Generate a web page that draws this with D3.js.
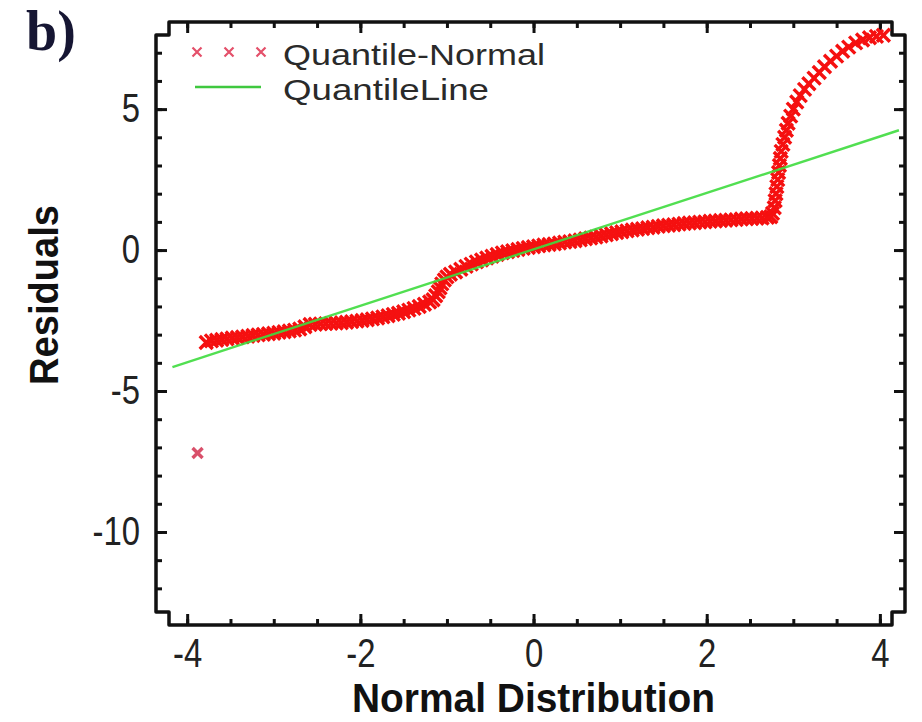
<!DOCTYPE html>
<html>
<head>
<meta charset="utf-8">
<script src="https://cdn.jsdelivr.net/npm/d3@7"></script>
<style>
  body { margin: 0; background: #fff; }
  svg { display: block; }
</style>
</head>
<body>
<div id="chart"></div>
<script>
// tick values
var xMajorTicks = [-4, -2, 0, 2, 4];
var xMinorTicks = [-4, -3.5, -3, -2.5, -2, -1.5, -1, -0.5, 0, 0.5, 1, 1.5, 2, 2.5, 3, 3.5, 4];
var yMajorTicks = [-10, -5, 0, 5];
var yMinorTicks = [-12, -11, -10, -9, -8, -7, -6, -5, -4, -3, -2, -1, 0, 1, 2, 3, 4, 5, 6, 7];

var legendLabels = ["Quantile-Normal", "QuantileLine"];
var xTitle = "Normal  Distribution";
var yTitle = "Residuals";
var panelLabel = "b)";

// residual quantiles vs normal quantiles
var outlierPoints = [[-3.88, -7.2]];
var lowerTail = [
  [-3.78, -3.28], [-3.72, -3.22], [-3.66, -3.2], [-3.6, -3.17], [-3.54, -3.15], [-3.48, -3.12],
  [-3.42, -3.1], [-3.36, -3.08], [-3.3, -3.06], [-3.24, -3.03], [-3.18, -3.01], [-3.12, -2.99],
  [-3.06, -2.97], [-3.0, -2.95], [-2.94, -2.92], [-2.88, -2.9], [-2.82, -2.87], [-2.76, -2.84],
  [-2.7, -2.8], [-2.64, -2.72], [-2.58, -2.64]
];
var lowerMiddle = [
  [-2.52, -2.63], [-2.46, -2.62], [-2.4, -2.61], [-2.34, -2.6], [-2.28, -2.59], [-2.22, -2.58],
  [-2.16, -2.56], [-2.1, -2.54], [-2.04, -2.52], [-1.98, -2.5], [-1.92, -2.47], [-1.86, -2.44],
  [-1.8, -2.41], [-1.74, -2.37], [-1.68, -2.33], [-1.62, -2.28], [-1.56, -2.24], [-1.5, -2.19],
  [-1.44, -2.13], [-1.38, -2.07], [-1.32, -2.0], [-1.26, -1.92], [-1.2, -1.84],
  [-1.16, -1.76], [-1.13, -1.62], [-1.1, -1.48], [-1.08, -1.34], [-1.06, -1.2], [-1.03, -1.06],
  [-1.0, -0.95], [-0.96, -0.86]
];
var upperMiddle = [
  [-0.9, -0.78], [-0.84, -0.68], [-0.78, -0.58], [-0.72, -0.5], [-0.66, -0.42], [-0.6, -0.35],
  [-0.54, -0.28], [-0.48, -0.22], [-0.42, -0.16], [-0.36, -0.1], [-0.3, -0.06], [-0.24, -0.02],
  [-0.18, 0.02], [-0.12, 0.06], [-0.06, 0.09], [0.0, 0.12], [0.06, 0.15], [0.12, 0.18],
  [0.18, 0.2], [0.24, 0.22], [0.3, 0.25], [0.36, 0.28], [0.42, 0.3], [0.48, 0.33],
  [0.54, 0.36], [0.6, 0.4], [0.66, 0.43], [0.72, 0.46], [0.78, 0.5], [0.84, 0.54],
  [0.9, 0.58], [0.96, 0.62], [1.02, 0.65], [1.08, 0.68], [1.14, 0.71], [1.2, 0.74],
  [1.26, 0.76], [1.32, 0.79], [1.38, 0.81], [1.44, 0.84], [1.5, 0.86], [1.56, 0.88],
  [1.62, 0.9], [1.68, 0.92], [1.74, 0.94], [1.8, 0.96], [1.86, 0.97], [1.92, 0.99],
  [1.98, 1.0], [2.04, 1.02], [2.1, 1.03], [2.16, 1.05], [2.22, 1.06], [2.28, 1.07],
  [2.34, 1.08], [2.4, 1.1], [2.46, 1.11], [2.52, 1.12], [2.58, 1.13], [2.64, 1.14],
  [2.7, 1.16], [2.74, 1.18]
];
var upperTail = [
  [2.76, 1.3], [2.78, 1.5], [2.79, 1.75], [2.8, 2.0], [2.81, 2.25], [2.82, 2.5], [2.83, 2.75],
  [2.84, 3.0], [2.85, 3.25], [2.86, 3.5], [2.88, 3.75], [2.9, 4.0], [2.92, 4.25], [2.94, 4.5],
  [2.97, 4.75], [3.0, 5.0], [3.04, 5.25], [3.08, 5.48], [3.13, 5.7], [3.18, 5.9], [3.24, 6.1],
  [3.3, 6.3], [3.36, 6.5], [3.43, 6.7], [3.5, 6.88], [3.57, 7.05], [3.64, 7.2], [3.72, 7.35],
  [3.8, 7.45], [3.88, 7.53], [3.96, 7.58], [4.04, 7.62]
];

// reference line end points
var lineX = [-4.17, 4.22];
var lineY = [-4.15, 4.25];

var svgWidth = 922;
var svgHeight = 722;

var margin = { top: 22, right: 17, bottom: 97, left: 156 };
var width = svgWidth - margin.left - margin.right;
var height = svgHeight - margin.top - margin.bottom;
var notch = 13;
var ink = "#111";
var markRed = "#f51010";

var svg = d3.select("#chart")
  .append("svg")
  .attr("width", svgWidth)
  .attr("height", svgHeight);

var chartGroup = svg.append("g")
  .attr("transform", `translate(${margin.left}, ${margin.top})`);

var xScale = d3.scaleLinear().domain([-4.36, 4.29]).range([0, width]);
var yScale = d3.scaleLinear().domain([-13.3, 8.09]).range([height, 0]);

var fmt = d => String(d);

// axes, ticks pointing inwards
function styleAxis(g) {
  g.select(".domain").remove();
  g.selectAll(".tick line").attr("stroke", ink).attr("stroke-width", 3);
  g.selectAll(".tick text")
    .attr("fill", "#222")
    .attr("font-family", "'Liberation Sans', Arial, sans-serif")
    .attr("font-size", "40px")
    .each(function() {
      // the original labels are tall and narrow
      var len = this.getComputedTextLength();
      if (len > 0) {
        d3.select(this)
          .attr("textLength", len * 0.82)
          .attr("lengthAdjust", "spacingAndGlyphs");
      }
    });
}

chartGroup.append("g")
  .attr("transform", `translate(0, ${height})`)
  .call(d3.axisBottom(xScale).tickValues(xMinorTicks).tickSize(-6).tickFormat(""))
  .call(styleAxis);
chartGroup.append("g")
  .attr("transform", `translate(0, ${height})`)
  .call(d3.axisBottom(xScale).tickValues(xMajorTicks).tickSize(-11).tickPadding(14).tickFormat(fmt))
  .call(styleAxis);

chartGroup.append("g")
  .call(d3.axisTop(xScale).tickValues(xMinorTicks).tickSize(-6).tickFormat(""))
  .call(styleAxis);
chartGroup.append("g")
  .call(d3.axisTop(xScale).tickValues(xMajorTicks).tickSize(-11).tickFormat(""))
  .call(styleAxis);

chartGroup.append("g")
  .call(d3.axisLeft(yScale).tickValues(yMinorTicks).tickSize(-6).tickFormat(""))
  .call(styleAxis);
chartGroup.append("g")
  .call(d3.axisLeft(yScale).tickValues(yMajorTicks).tickSize(-11).tickPadding(16).tickFormat(fmt))
  .call(styleAxis);

chartGroup.append("g")
  .attr("transform", `translate(${width}, 0)`)
  .call(d3.axisRight(yScale).tickValues(yMinorTicks).tickSize(-6).tickFormat(""))
  .call(styleAxis);
chartGroup.append("g")
  .attr("transform", `translate(${width}, 0)`)
  .call(d3.axisRight(yScale).tickValues(yMajorTicks).tickSize(-11).tickFormat(""))
  .call(styleAxis);

// frame with the stepped corners
var frame = d3.path();
frame.moveTo(0, notch);
frame.lineTo(0, height - notch);
frame.lineTo(notch, height - notch);
frame.lineTo(notch, height);
frame.lineTo(width - notch, height);
frame.lineTo(width - notch, height - notch);
frame.lineTo(width, height - notch);
frame.lineTo(width, notch);
frame.lineTo(width - notch, notch);
frame.lineTo(width - notch, 0);
frame.lineTo(notch, 0);
frame.lineTo(notch, notch);
frame.closePath();

chartGroup.append("path")
  .attr("d", frame.toString())
  .attr("fill", "none")
  .attr("stroke", ink)
  .attr("stroke-width", 3.5)
  .attr("stroke-linejoin", "round");

// quantile markers
var crossPath = "M-6.5,-6.5L6.5,6.5M-6.5,6.5L6.5,-6.5";
var allPoints = outlierPoints.concat(lowerTail, lowerMiddle, upperMiddle, upperTail);

chartGroup.append("g")
  .selectAll("path")
  .data(allPoints)
  .enter()
  .append("path")
  .attr("d", (d, i) => i === 0 ? "M-5,-5L5,5M-5,5L5,-5" : crossPath)
  .attr("transform", d => `translate(${xScale(d[0])}, ${yScale(d[1])})`)
  .attr("fill", "none")
  .attr("stroke", (d, i) => i === 0 ? "#d9506a" : markRed)
  .attr("stroke-width", 3.4);

// quantile line
chartGroup.append("line")
  .attr("x1", xScale(lineX[0]))
  .attr("y1", yScale(lineY[0]))
  .attr("x2", xScale(lineX[1]))
  .attr("y2", yScale(lineY[1]))
  .attr("stroke", "#3fdc3f")
  .attr("stroke-width", 2.4)
  .attr("opacity", 0.9);

// legend
var legend = svg.append("g").attr("transform", "translate(197, 52)");
[0, 1, 2].forEach(function(i) {
  legend.append("path")
    .attr("d", "M-4.5,-4.5L4.5,4.5M-4.5,4.5L4.5,-4.5")
    .attr("transform", `translate(${i * 32}, 0)`)
    .attr("fill", "none")
    .attr("stroke", "#e4506a")
    .attr("stroke-width", 2.2);
});
legend.append("line")
  .attr("x1", -2).attr("x2", 64)
  .attr("y1", 35).attr("y2", 35)
  .attr("stroke", "#3fc83f")
  .attr("stroke-width", 2.6);

legend.selectAll("text")
  .data(legendLabels)
  .enter()
  .append("text")
  .attr("x", 86)
  .attr("y", (d, i) => 13 + i * 35)
  .attr("font-family", "'Liberation Sans', Arial, sans-serif")
  .attr("font-size", "30px")
  .attr("textLength", (d, i) => i === 0 ? 262 : 206)
  .attr("lengthAdjust", "spacingAndGlyphs")
  .attr("fill", "#2a2a2a")
  .text(d => d);

// axis titles
svg.append("text")
  .attr("x", margin.left + xScale(0))
  .attr("y", 712)
  .attr("text-anchor", "middle")
  .attr("font-family", "'Liberation Sans', Arial, sans-serif")
  .attr("font-weight", "bold")
  .attr("font-size", "40px")
  .attr("textLength", 363)
  .attr("lengthAdjust", "spacingAndGlyphs")
  .attr("fill", "#111")
  .text(xTitle);

svg.append("text")
  .attr("transform", "translate(58, 295) rotate(-90)")
  .attr("text-anchor", "middle")
  .attr("font-family", "'Liberation Sans', Arial, sans-serif")
  .attr("font-weight", "bold")
  .attr("font-size", "40px")
  .attr("textLength", 180)
  .attr("lengthAdjust", "spacingAndGlyphs")
  .attr("fill", "#111")
  .text(yTitle);

svg.append("text")
  .attr("x", 26)
  .attr("y", 50)
  .attr("font-family", "'Liberation Serif', 'Times New Roman', serif")
  .attr("font-weight", "bold")
  .attr("font-size", "56px")
  .attr("fill", "#161633")
  .text(panelLabel);
</script>
</body>
</html>
